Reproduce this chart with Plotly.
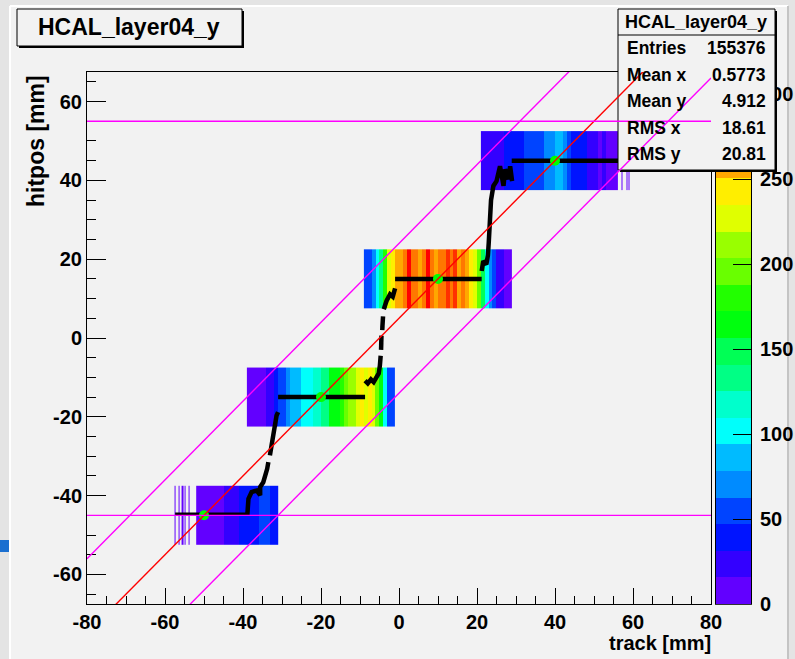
import numpy as np
import plotly.graph_objects as go

# ---------------- data ----------------
title_text = "HCAL_layer04_y"
x_title = "track [mm]"
y_title = "hitpos [mm]"

x_range = [-80, 80]
y_range = [-67.5, 67.5]
x_ticks = [-80, -60, -40, -20, 0, 20, 40, 60, 80]
y_ticks = [-60, -40, -20, 0, 20, 40, 60]
row_height = 15.0

# 2D histogram rows (y-bin centres) and 1 mm x-bin counts per row
row1_y = -45
row1_x0 = -52
row1_counts = [8, 9, 7, 10, 9, 11, 12, 18, 20, 22, 25, 33, 36, 40, 38, 44, 52, 49, 56, 45, 38]
row1_stray_x = [-57.4, -56.3, -55.5, -54.9, -53.8]
row1_stray_counts = [4, 6, 3, 5, 7]

row2_y = -15
row2_x0 = -39
row2_counts = [10, 12, 9, 13, 14, 20, 28, 35, 52, 60, 75, 88, 82, 92, 100, 96, 105, 115, 122, 130,
               140, 158, 165, 170, 185, 195, 210, 205, 222, 238, 232, 245, 228, 200, 170, 105, 60, 55]

row3_y = 15
row3_x0 = -9
row3_counts = [50, 60, 75, 95, 130, 185, 225, 245, 258, 262, 270, 313, 268, 275, 262, 280, 300, 272, 265, 278,
               270, 290, 268, 296, 262, 275, 258, 245, 228, 200, 150, 105, 70, 55, 25, 20, 14, 12]

row4_y = 45
row4_x0 = 21
row4_counts = [20, 24, 18, 22, 26, 28, 35, 40, 38, 45, 42, 50, 48, 55, 62, 58, 66, 70, 64, 85,
               80, 68, 55, 45, 40, 36, 33, 28, 25, 18, 14, 16, 10, 12, 8]
row4_stray_x = [57.2, 58.5, 59.0]
row4_stray_counts = [5, 4, 6]

# black hit-position curve: thin low segment, then thick path (None = break)
thin_x = [-57.4, -39.0]
thin_y = [-44.6, -44.6]
curve_x = [-38.9, -38.6, -37.8, -36.5, -35.6, -35.6, -34.8, -34.1, -33.8, -33.5, None,
           -33.1, -32.7, -32.2, -31.8, -31.4, -31.0, None,
           -31.0, -8.7, None,
           -8.7, -8.0, -7.2, -6.5, -5.8, -5.2, -4.9, -4.7, None,
           -4.6, -4.5, None, -4.3, -4.1, None,
           -3.9, -3.2, -2.3, -1.6, -1.0, None,
           -1.0, 21.2, None,
           21.2, 21.6, 22.4, 22.8, 23.0, 23.2, 23.4, 23.6, 24.2, 25.0, 25.9, 26.8, 27.2, 28.1, 28.5, 29.0, None,
           28.9, 56.7]
curve_y = [-45.0, -40.8, -39.1, -38.7, -39.9, -37.8, -36.6, -34.4, -33.2, -31.5, None,
           -29.8, -27.3, -24.7, -22.2, -19.7, -18.8, None,
           -15.0, -15.0, None,
           -10.8, -11.5, -10.5, -11.2, -10.0, -9.0, -7.0, -4.5, None,
           -3.0, 0.6, None, 2.0, 5.5, None,
           7.3, 9.4, 11.1, 10.5, 12.6, None,
           15.0, 15.0, None,
           17.0, 19.5, 18.7, 21.0, 24.0, 27.0, 31.0, 35.0, 38.6, 39.8, 43.6, 38.6, 42.8, 40.3, 43.6, 39.8, None,
           45.0, 45.0]

# fitted centres (green)
fit_x = [-50, -20, 10, 40]
fit_y = [-45, -15, 15, 45]

# reference lines: y = x + offset, and horizontal lines
diag_offsets = [5, 24, -14]
diag_colors = ["#ff0000", "#ff00ff", "#ff00ff"]
hline_y = [55, -45]

# stats box
stat_labels = ["Entries", "Mean x", "Mean y", "RMS x", "RMS y"]
stat_values = ["155376", "0.5773", "4.912", "18.61", "20.81"]

z_ticks = [0, 50, 100, 150, 200, 250, 300]
n_levels = 20

# ROOT "pretty" palette colours picked for 20 contour levels
palette = ["#6200ff", "#3300ff", "#0014ff", "#0044ff", "#008bff", "#00bbff", "#00fffb", "#00ffcc",
           "#00ff85", "#00ff55", "#00ff0e", "#22ff00", "#69ff00", "#99ff00", "#e0ff00", "#ffee00",
           "#ffa700", "#ff7700", "#ff3000", "#ff0000"]

# ---------------- layout geometry ----------------
W, H = 795, 659
ML, MR, MT, MB = 87, 44, 72, 55
PW = W - ML - MR
PH = H - MT - MB
main_right = 711
cb_left, cb_right = 716, 751


def px(x):
    return (x - ML) / PW


def py(y):
    return (H - MB - y) / PH


FONT = "Liberation Sans, Arial, Helvetica, sans-serif"

zmax = max(max(row1_counts), max(row2_counts), max(row3_counts), max(row4_counts))

colorscale = []
for k, c in enumerate(palette):
    colorscale.append([k / n_levels, c])
    colorscale.append([(k + 1) / n_levels, c])

fig = go.Figure()


def add_row(yc, x0, counts):
    edges = x0 + np.arange(len(counts) + 1, dtype=float)
    fig.add_trace(go.Heatmap(x=edges, y=[yc - row_height / 2, yc + row_height / 2], z=[counts],
                             coloraxis="coloraxis", hoverinfo="skip", xaxis="x", yaxis="y"))


def add_stripes(yc, centers, counts, w=0.3):
    edges = [centers[0] - w / 2]
    z = []
    for i, (c, v) in enumerate(zip(centers, counts)):
        if i > 0:
            edges.append(c - w / 2)
            z.append(None)
        edges.append(c + w / 2)
        z.append(v)
    fig.add_trace(go.Heatmap(x=edges, y=[yc - row_height / 2, yc + row_height / 2], z=[z],
                             coloraxis="coloraxis", hoverinfo="skip", xaxis="x", yaxis="y"))


add_stripes(row1_y, row1_stray_x, row1_stray_counts)
add_row(row1_y, row1_x0, row1_counts)
add_row(row2_y, row2_x0, row2_counts)
add_row(row3_y, row3_x0, row3_counts)
add_row(row4_y, row4_x0, row4_counts)
add_stripes(row4_y, row4_stray_x, row4_stray_counts)

# black curve
fig.add_trace(go.Scatter(x=thin_x, y=thin_y, mode="lines", line=dict(color="black", width=2.5),
                         hoverinfo="skip", showlegend=False))
fig.add_trace(go.Scatter(x=curve_x, y=curve_y, mode="lines", line=dict(color="black", width=4.5),
                         connectgaps=False, hoverinfo="skip", showlegend=False))
# green centres
fig.add_trace(go.Scatter(x=fit_x, y=fit_y, mode="markers",
                         marker=dict(color="#00ff00", size=10, line=dict(width=0)),
                         hoverinfo="skip", showlegend=False))

# palette (colour bar) as its own subplot
lev = np.linspace(0, zmax, n_levels + 1)
mids = (lev[:-1] + lev[1:]) / 2
fig.add_trace(go.Heatmap(x=[0, 1], y=lev, z=[[m] for m in mids], coloraxis="coloraxis",
                         xaxis="x2", yaxis="y2", hoverinfo="skip"))

axis_font = dict(family=FONT, size=20, color="black", weight="bold")

fig.update_layout(
    width=W, height=H,
    margin=dict(l=ML, r=MR, t=MT, b=MB, pad=0, autoexpand=False),
    paper_bgcolor="#e4e4e4",
    plot_bgcolor="#f2f2f2",
    showlegend=False,
    coloraxis=dict(colorscale=colorscale, cmin=0, cmax=zmax, showscale=False),
    xaxis=dict(domain=[0, px(main_right)], range=x_range, showgrid=False, zeroline=False,
               automargin=False,
               showline=True, mirror=True, linecolor="black", linewidth=1,
               ticks="inside", tickvals=x_ticks, ticktext=[str(v) for v in x_ticks],
               ticklen=16, tickwidth=1, tickcolor="black",
               minor=dict(dtick=5, tick0=0, ticklen=8, ticks="inside", tickcolor="black", tickwidth=1),
               tickfont=axis_font, ticklabelstandoff=0),
    yaxis=dict(domain=[0, 1], range=y_range, showgrid=False, zeroline=False,
               automargin=False,
               showline=True, mirror=True, linecolor="black", linewidth=1,
               ticks="inside", tickvals=y_ticks, ticktext=[str(v) for v in y_ticks],
               ticklen=19, tickwidth=1, tickcolor="black",
               minor=dict(dtick=5, tick0=0, ticklen=9, ticks="inside", tickcolor="black", tickwidth=1),
               tickfont=axis_font, ticklabelstandoff=0),
    xaxis2=dict(domain=[px(cb_left), 1], range=[0, 1], anchor="y2", showgrid=False, zeroline=False,
                automargin=False,
                showticklabels=False, showline=True, mirror=True, linecolor="#333333", linewidth=1),
    yaxis2=dict(domain=[0, 1], range=[0, zmax], anchor="x2", side="right", showgrid=False,
                automargin=False,
                zeroline=False, showline=True, mirror=True, linecolor="black", linewidth=1,
                ticks="inside", tickvals=z_ticks, ticklen=18, tickwidth=1, tickcolor="black",
                tickfont=axis_font, ticklabelstandoff=4),
)

shapes = []
# pad background
shapes.append(dict(type="rect", xref="paper", yref="paper", layer="below",
                   x0=px(10), x1=px(788), y0=py(H + 5), y1=py(6),
                   fillcolor="#f2f2f2", line=dict(width=0)))
shapes.append(dict(type="line", xref="paper", yref="paper", layer="below",
                   x0=px(10), x1=px(788), y0=py(6), y1=py(6), line=dict(color="white", width=2)))
shapes.append(dict(type="line", xref="paper", yref="paper", layer="below",
                   x0=px(10), x1=px(10), y0=py(6), y1=py(H + 5), line=dict(color="white", width=2)))
shapes.append(dict(type="line", xref="paper", yref="paper", layer="below",
                   x0=px(788), x1=px(788), y0=py(6), y1=py(H + 5), line=dict(color="#c4c4c4", width=2)))
shapes.append(dict(type="rect", xref="paper", yref="paper", layer="below",
                   x0=px(0), x1=px(9), y0=py(552), y1=py(540), fillcolor="#1a6fd0", line=dict(width=0)))

# title box with shadow
shapes.append(dict(type="rect", xref="paper", yref="paper", layer="above",
                   x0=px(19), x1=px(244), y0=py(48), y1=py(11), fillcolor="black", line=dict(width=0)))
shapes.append(dict(type="rect", xref="paper", yref="paper", layer="above",
                   x0=px(17), x1=px(242), y0=py(46), y1=py(9), fillcolor="#f2f2f2",
                   line=dict(color="black", width=1)))
# stats box with shadow
shapes.append(dict(type="rect", xref="paper", yref="paper", layer="above",
                   x0=px(620), x1=px(777), y0=py(172), y1=py(11), fillcolor="black", line=dict(width=0)))
shapes.append(dict(type="rect", xref="paper", yref="paper", layer="above",
                   x0=px(618), x1=px(775), y0=py(170), y1=py(9), fillcolor="#f2f2f2",
                   line=dict(color="black", width=1)))
shapes.append(dict(type="line", xref="paper", yref="paper", layer="above",
                   x0=px(618), x1=px(775), y0=py(35), y1=py(35), line=dict(color="black", width=1)))

# reference lines (clipped to the frame)
for off, col in zip(diag_offsets, diag_colors):
    shapes.append(dict(type="line", xref="x", yref="y", layer="above",
                       x0=x_range[0], y0=x_range[0] + off, x1=x_range[1], y1=x_range[1] + off,
                       line=dict(color=col, width=1.4)))
for yv in hline_y:
    shapes.append(dict(type="line", xref="x", yref="y", layer="above",
                       x0=x_range[0], y0=yv, x1=x_range[1], y1=yv,
                       line=dict(color="#ff00ff", width=1.4)))
fig.update_layout(shapes=shapes)

ann = []
ann.append(dict(text=title_text, xref="paper", yref="paper", x=px(129), y=py(27),
                xanchor="center", yanchor="middle", showarrow=False,
                font=dict(family=FONT, size=23, color="black", weight="bold")))
ann.append(dict(text=title_text, xref="paper", yref="paper", x=px(696), y=py(22),
                xanchor="center", yanchor="middle", showarrow=False,
                font=dict(family=FONT, size=18, color="black", weight="bold")))
row_y = [48, 75, 101, 128, 154]
for lab, val, ry in zip(stat_labels, stat_values, row_y):
    ann.append(dict(text=lab, xref="paper", yref="paper", x=px(625), y=py(ry),
                    xanchor="left", yanchor="middle", showarrow=False,
                    font=dict(family=FONT, size=17.5, color="black", weight="bold")))
    ann.append(dict(text=val, xref="paper", yref="paper", x=px(768), y=py(ry),
                    xanchor="right", yanchor="middle", showarrow=False,
                    font=dict(family=FONT, size=17.5, color="black", weight="bold")))
ann.append(dict(text=x_title, xref="paper", yref="paper", x=px(713), y=py(643),
                xanchor="right", yanchor="middle", showarrow=False,
                font=dict(family=FONT, size=20, color="black", weight="bold")))
ann.append(dict(text=y_title, xref="paper", yref="paper", x=px(36), y=py(141),
                xanchor="center", yanchor="middle", showarrow=False, textangle=-90,
                font=dict(family=FONT, size=23, color="black", weight="bold")))
fig.update_layout(annotations=ann)

fig.write_html("out.html")
